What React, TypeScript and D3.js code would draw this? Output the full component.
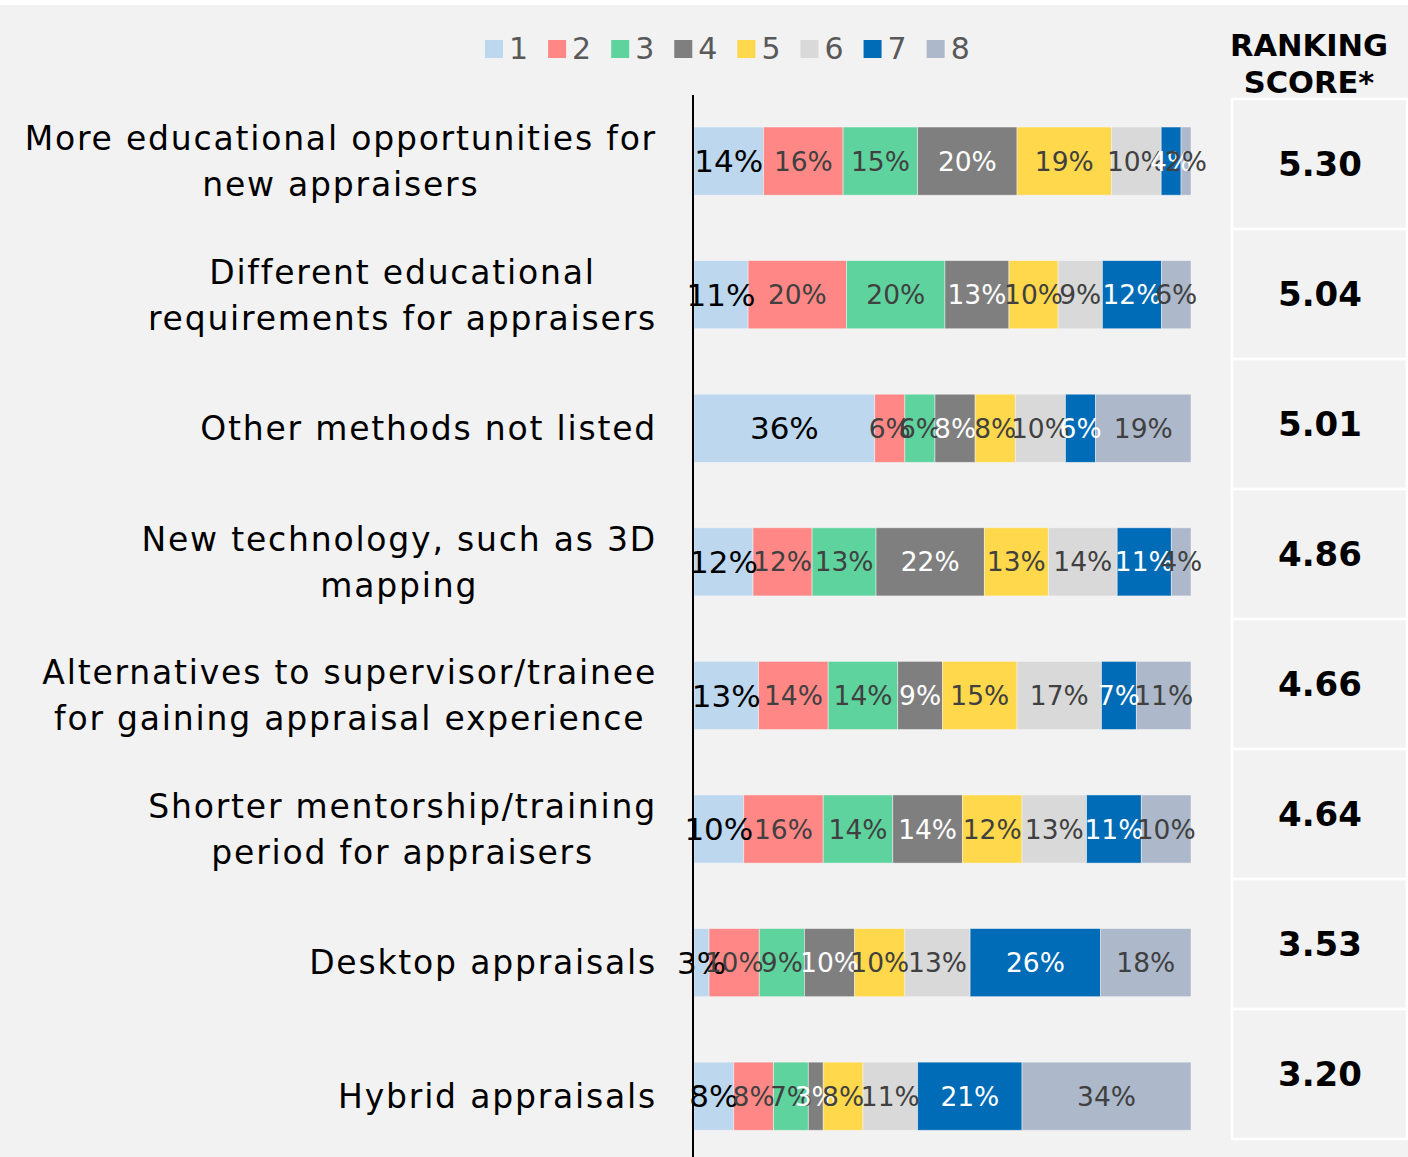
import React, { useEffect, useRef } from "react";
import * as d3 from "d3";

// categories (label lines), top to bottom
const categories: string[][] = [
  ["More educational opportunities for", "new appraisers"],
  ["Different educational", "requirements for appraisers"],
  ["Other methods not listed"],
  ["New technology, such as 3D", "mapping"],
  ["Alternatives to supervisor/trainee", "for gaining appraisal experience"],
  ["Shorter mentorship/training", "period for appraisers"],
  ["Desktop appraisals"],
  ["Hybrid appraisals"],
];

// rank keys 1..8
const ranks = ["1", "2", "3", "4", "5", "6", "7", "8"];

// percent of respondents giving each rank, one array per category
const rank1 = [14, 11, 36, 12, 13, 10, 3, 8];
const rank2 = [16, 20, 6, 12, 14, 16, 10, 8];
const rank3 = [15, 20, 6, 13, 14, 14, 9, 7];
const rank4 = [20, 13, 8, 22, 9, 14, 10, 3];
const rank5 = [19, 10, 8, 13, 15, 12, 10, 8];
const rank6 = [10, 9, 10, 14, 17, 13, 13, 11];
const rank7 = [4, 12, 6, 11, 7, 11, 26, 21];
const rank8 = [2, 6, 19, 4, 11, 10, 18, 34];

const rankingScores = [5.3, 5.04, 5.01, 4.86, 4.66, 4.64, 3.53, 3.2];

const colors = ["#bdd7ee", "#ff8886", "#5fd39e", "#7f7f7f", "#ffd84c", "#d9d9d9", "#006bb6", "#adb9cb"];
const labelColors = ["#000000", "#404040", "#404040", "#ffffff", "#404040", "#404040", "#ffffff", "#404040"];

const width = 1408;
const height = 1157;
const FONT = "'DejaVu Sans', sans-serif";

const App = () => {
  const ref = useRef<SVGSVGElement>(null);

  useEffect(() => {
    document.body.style.margin = "0";
    const svg = d3.select(ref.current);
    svg.selectAll("*").remove();

    const series = [rank1, rank2, rank3, rank4, rank5, rank6, rank7, rank8];
    const rows = categories.map((c, i) => {
      const row: any = { idx: i };
      ranks.forEach((r, k) => (row[r] = series[k][i]));
      return row;
    });

    // background
    svg.append("rect").attr("x", 0).attr("y", 5).attr("width", width).attr("height", height - 5).attr("fill", "#f2f2f2");

    const y = d3
      .scaleBand<number>()
      .domain(d3.range(categories.length))
      .range([94.3, 1163])
      .paddingInner(0.49)
      .paddingOuter(0.245);

    const barLeft = 694;
    const barRight = 1191;

    // each row is scaled to its own total so bars are full width
    const stack = d3.stack<any>().keys(ranks);
    const stacked = stack(rows);

    const g = svg.append("g");
    stacked.forEach((layer, k) => {
      layer.forEach((d, i) => {
        const total = d3.sum(ranks, (r) => rows[i][r]);
        const x = d3.scaleLinear().domain([0, total]).range([barLeft, barRight]);
        const x0 = x(d[0]);
        const x1 = x(d[1]);
        g.append("rect")
          .attr("x", x0)
          .attr("y", y(i)!)
          .attr("width", Math.max(0, x1 - x0))
          .attr("height", y.bandwidth())
          .attr("fill", colors[k])
          .attr("stroke", "#f7f7f7")
          .attr("stroke-opacity", 0.6)
          .attr("stroke-width", 0.8);
      });
    });

    // percent labels
    stacked.forEach((layer, k) => {
      layer.forEach((d, i) => {
        const total = d3.sum(ranks, (r) => rows[i][r]);
        const x = d3.scaleLinear().domain([0, total]).range([barLeft, barRight]);
        g.append("text")
          .attr("x", (x(d[0]) + x(d[1])) / 2)
          .attr("y", y(i)! + y.bandwidth() / 2)
          .attr("dy", "0.36em")
          .attr("text-anchor", "middle")
          .attr("font-family", FONT)
          .attr("font-size", k === 0 ? 31 : 26.5)
          .attr("fill", labelColors[k])
          .text(`${d[1] - d[0]}%`);
      });
    });

    // axis line
    svg.append("line").attr("x1", 693).attr("x2", 693).attr("y1", 95).attr("y2", height).attr("stroke", "#000").attr("stroke-width", 2);

    // category labels: right-aligned block, lines centred within block
    const lineGap = 46;
    const labelFs = 33;
    categories.forEach((lines, i) => {
      const cy = y(i)! + y.bandwidth() / 2;
      const texts = lines.map((t, j) =>
        svg
          .append("text")
          .attr("y", cy + (j - (lines.length - 1) / 2) * lineGap)
          .attr("dy", "0.36em")
          .attr("text-anchor", "middle")
          .attr("font-family", FONT)
          .attr("font-size", labelFs)
          .attr("letter-spacing", 1.8)
          .attr("fill", "#000")
          .text(t)
      );
      const maxW = d3.max(texts, (t) => (t.node() as SVGTextElement).getComputedTextLength()) || 0;
      texts.forEach((t) => t.attr("x", 657 - maxW / 2));
    });

    // legend
    const legend = svg.append("g");
    let lx = 485;
    ranks.forEach((r, k) => {
      legend.append("rect").attr("x", lx).attr("y", 40).attr("width", 18).attr("height", 18).attr("fill", colors[k]);
      const t = legend
        .append("text")
        .attr("x", lx + 24)
        .attr("y", 59)
        .attr("font-family", FONT)
        .attr("font-size", 30)
        .attr("fill", "#595959")
        .text(r);
      lx += 24 + (t.node() as SVGTextElement).getComputedTextLength() + 20;
    });

    // ranking score table
    const ty = d3.scaleBand<number>().domain(d3.range(rankingScores.length)).range([99, 1139]);
    const tableX = 1232;
    const tableW = 175;
    ["RANKING", "SCORE*"].forEach((h, j) => {
      svg
        .append("text")
        .attr("x", 1309)
        .attr("y", 56 + j * 37)
        .attr("text-anchor", "middle")
        .attr("font-family", FONT)
        .attr("font-weight", "bold")
        .attr("font-size", 30.5)
        .attr("fill", "#000")
        .text(h);
    });

    rankingScores.forEach((s, i) => {
      svg
        .append("rect")
        .attr("x", tableX)
        .attr("y", ty(i)!)
        .attr("width", tableW)
        .attr("height", ty.bandwidth())
        .attr("fill", "none")
        .attr("stroke", "#ffffff")
        .attr("stroke-width", 2.5);
      svg
        .append("text")
        .attr("x", 1320)
        .attr("y", ty(i)! + ty.bandwidth() / 2)
        .attr("dy", "0.36em")
        .attr("text-anchor", "middle")
        .attr("font-family", FONT)
        .attr("font-weight", "bold")
        .attr("font-size", 34)
        .attr("fill", "#000")
        .text(d3.format(".2f")(s));
    });
  }, []);

  return <svg ref={ref} width={width} height={height} style={{ display: "block" }}></svg>;
};

export default App;
